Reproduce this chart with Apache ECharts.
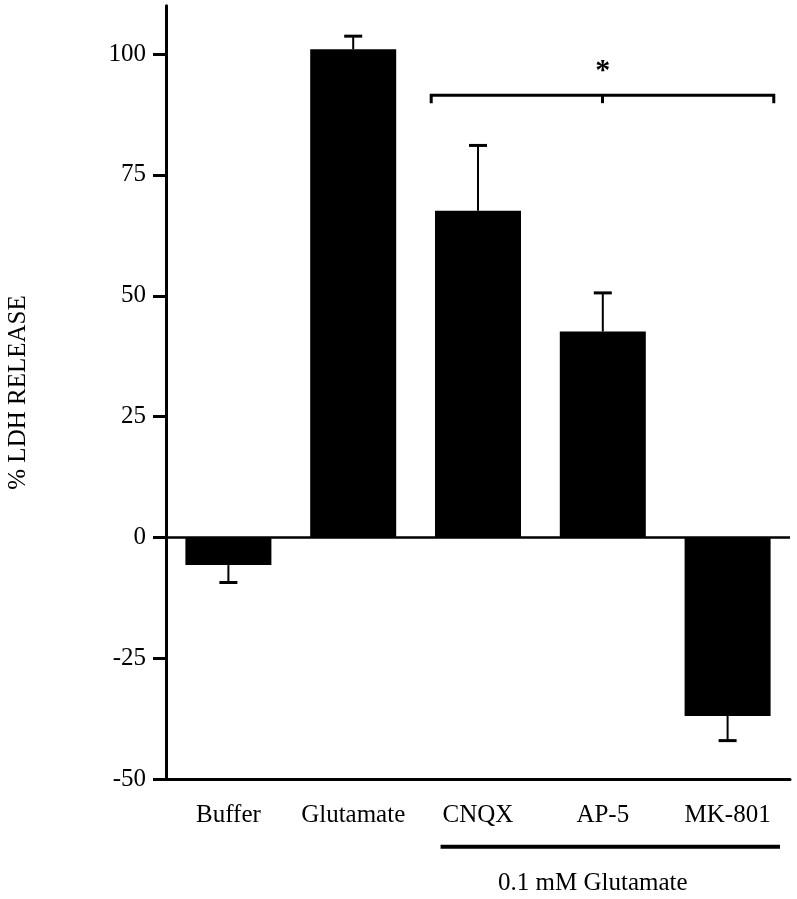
<!DOCTYPE html>
<html>
<head>
<meta charset="utf-8">
<script src="https://cdn.jsdelivr.net/npm/echarts@6/dist/echarts.min.js"></script>
<style>
html,body{margin:0;padding:0;background:#fff;}
#chart{width:797px;height:899px;}
</style>
</head>
<body>
<div id="chart"></div>
<script>
const categories = ['Buffer', 'Glutamate', 'CNQX', 'AP-5', 'MK-801'];
const meanValues = [-5.7, 101.0, 67.6, 42.6, -36.9];
const errorEnds = [-9.3, 103.7, 81.1, 50.6, -42.0];
const yTicks = [-50, -25, 0, 25, 50, 75, 100];
const yAxisTitle = '% LDH RELEASE';
const bracketLevel = 91.5;
const starLevel = 96.9;
const bracketFrom = 2;
const bracketTo = 4;
const groupLabel = '0.1 mM Glutamate';

const FONT = '"Liberation Serif", "Times New Roman", serif';

const chart = echarts.init(document.getElementById('chart'));

const option = {
  backgroundColor: '#fff',
  animation: false,
  grid: { left: 166, right: 7, top: 5.7, bottom: 119.7, containLabel: false, outerBoundsMode: 'none' },
  xAxis: {
    type: 'category',
    data: categories,
    position: 'bottom',
    axisLine: { onZero: false, lineStyle: { color: '#000', width: 3 } },
    axisTick: { alignWithLabel: true, length: 14, lineStyle: { color: '#000', width: 3 } },
    axisLabel: { color: '#000', fontFamily: FONT, fontSize: 25, margin: 24, interval: 0, hideOverlap: false },
    splitLine: { show: false }
  },
  yAxis: {
    type: 'value',
    min: -50,
    max: 110,
    interval: 25,
    name: yAxisTitle,
    nameLocation: 'middle',
    nameRotate: 90,
    nameGap: 135,
    nameTextStyle: { color: '#000', fontFamily: FONT, fontSize: 25 },
    axisLine: { show: true, lineStyle: { color: '#000', width: 3 } },
    axisTick: { show: true, length: 13, lineStyle: { color: '#000', width: 3 }, customValues: yTicks },
    axisLabel: { color: '#000', fontFamily: FONT, fontSize: 25, margin: 20, customValues: yTicks },
    splitLine: { show: false }
  },
  series: [
    {
      type: 'bar',
      data: meanValues,
      barWidth: 86,
      itemStyle: { color: '#000' },
      markLine: {
        silent: true,
        symbol: ['none', 'none'],
        label: { show: false },
        lineStyle: { color: '#000', width: 2.5, type: 'solid' },
        data: [{ yAxis: 0 }]
      }
    },
    {
      type: 'custom',
      data: categories.map((c, i) => [i, meanValues[i], errorEnds[i]]),
      z: 5,
      renderItem: function (params, api) {
        const x = api.value(0);
        const p0 = api.coord([x, api.value(1)]);
        const p1 = api.coord([x, api.value(2)]);
        return {
          type: 'group',
          children: [
            { type: 'line', shape: { x1: p0[0], y1: p0[1], x2: p1[0], y2: p1[1] }, style: { stroke: '#000', lineWidth: 2 } },
            { type: 'line', shape: { x1: p1[0] - 9, y1: p1[1], x2: p1[0] + 9, y2: p1[1] }, style: { stroke: '#000', lineWidth: 3 } }
          ]
        };
      }
    },
    {
      type: 'custom',
      clip: false,
      data: [[bracketFrom, bracketTo, bracketLevel, starLevel]],
      renderItem: function (params, api) {
        const band = api.size([1, 0])[0];
        const a = api.coord([api.value(0), api.value(2)]);
        const b = api.coord([api.value(1), api.value(2)]);
        const s = api.coord([(api.value(0) + api.value(1)) / 2, api.value(3)]);
        const xl = a[0] - band * 0.375;
        const xr = b[0] + band * 0.37;
        const y = a[1];
        const xm = (xl + xr) / 2;
        const base = api.coord([0, -50]);
        const gl = a[0] - band * 0.30;
        const gr = b[0] + band * 0.42;
        const gy = base[1] + 67.5;
        return {
          type: 'group',
          children: [
            { type: 'polyline', shape: { points: [[xl, y + 8], [xl, y], [xr, y], [xr, y + 8]] }, style: { stroke: '#000', lineWidth: 3, fill: null } },
            { type: 'line', shape: { x1: xm, y1: y, x2: xm, y2: y + 8 }, style: { stroke: '#000', lineWidth: 3 } },
            { type: 'text', x: s[0], y: s[1] + 2, style: { text: '*', font: 'bold 30px ' + FONT, fill: '#000', align: 'center', verticalAlign: 'middle' } },
            { type: 'line', shape: { x1: gl, y1: gy, x2: gr, y2: gy }, style: { stroke: '#000', lineWidth: 4 } },
            { type: 'text', x: s[0] - 10, y: base[1] + 104, style: { text: groupLabel, font: '25px ' + FONT, fill: '#000', align: 'center', verticalAlign: 'middle' } }
          ]
        };
      }
    }
  ]
};
chart.setOption(option);
</script>
</body>
</html>
